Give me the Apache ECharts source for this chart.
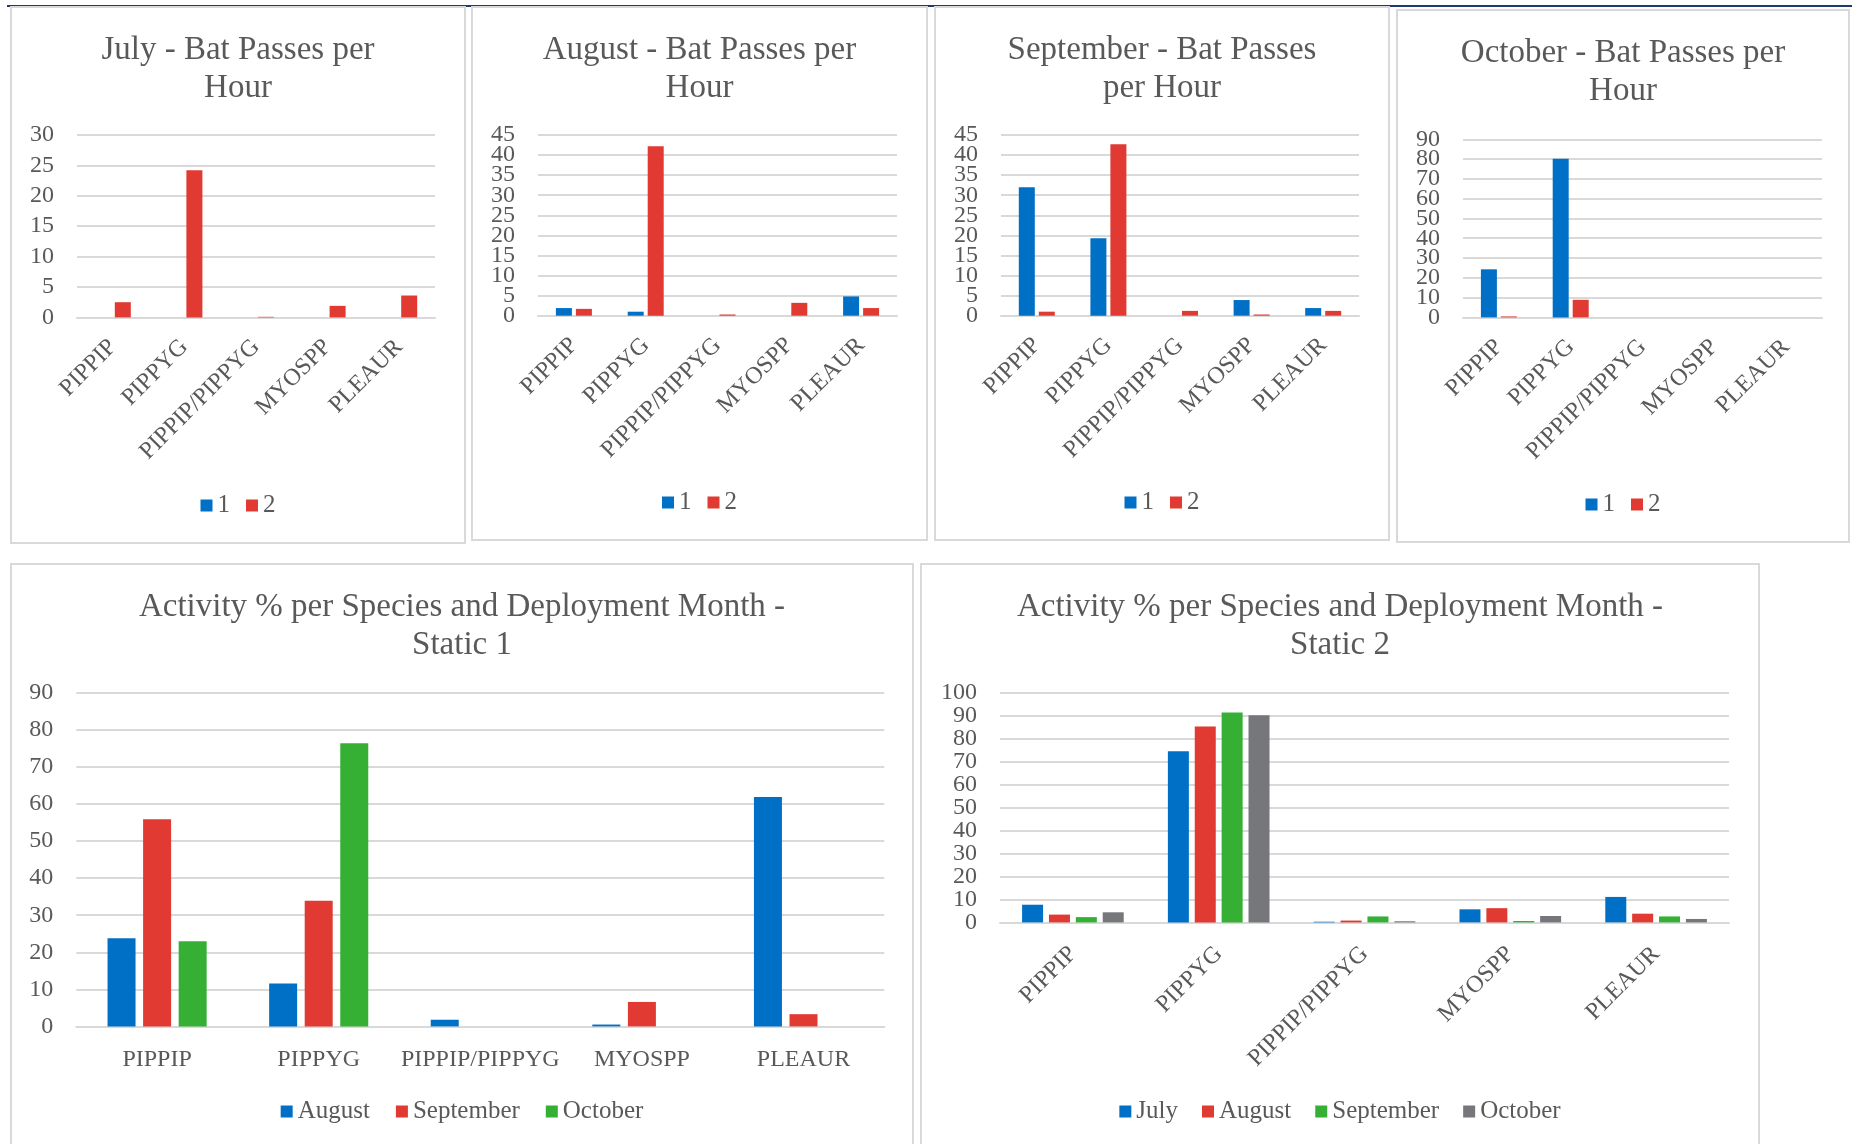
<!DOCTYPE html>
<html>
<head>
<meta charset="utf-8">
<script src="https://cdn.jsdelivr.net/npm/echarts@6/dist/echarts.min.js"></script>
<style>
  html, body { margin:0; padding:0; width:1852px; height:1144px; overflow:hidden; background:#fff; }
  .chart { position:absolute; }
  .frame { position:absolute; box-sizing:border-box; border:2px solid #D9D9D9; pointer-events:none; }
  #topline { position:absolute; left:7px; top:5px; width:1845px; height:2px; background:#1F3A70; }
</style>
</head>
<body>
<div id="topline"></div>
<script>
// ---------- data ----------
const categories = ['PIPPIP', 'PIPPYG', 'PIPPIP/PIPPYG', 'MYOSPP', 'PLEAUR'];

// Bat passes per hour, static 1 and static 2
const julyStatic1 = [0, 0, 0, 0, 0];
const julyStatic2 = [2.5, 24.2, 0.1, 1.9, 3.6];
const augStatic1  = [1.9, 1.0, 0, 0, 4.8];
const augStatic2  = [1.7, 42.2, 0.3, 3.2, 1.9];
const sepStatic1  = [32.0, 19.3, 0, 3.9, 1.9];
const sepStatic2  = [1.0, 42.7, 1.2, 0.3, 1.2];
const octStatic1  = [24.3, 80.2, 0, 0, 0];
const octStatic2  = [0.5, 8.9, 0, 0, 0];

// Activity % per species, Static 1
const s1August    = [23.8, 11.6, 1.8, 0.5, 61.9];
const s1September = [55.9, 33.9, 0, 6.6, 3.3];
const s1October   = [23.0, 76.4, 0, 0, 0];

// Activity % per species, Static 2
const s2July      = [7.7, 74.6, 0.3, 5.7, 11.1];
const s2August    = [3.4, 85.4, 0.8, 6.2, 3.8];
const s2September = [2.3, 91.5, 2.6, 0.6, 2.6];
const s2October   = [4.4, 90.3, 0.5, 2.8, 1.5];

const staticNames = ['1', '2'];
const s1Months = ['August', 'September', 'October'];
const s2Months = ['July', 'August', 'September', 'October'];

// ---------- styles ----------
const FONT = 'Liberation Serif';
const TXT = '#595959';
const GRID = '#D9D9D9';
const BLUE = '#0070C6', RED = '#E03A33', GREEN = '#35B035', GRAY = '#76777B';

function panel(rect, option) {
  const d = document.createElement('div');
  d.className = 'chart';
  d.style.left = rect.x + 'px'; d.style.top = rect.y + 'px';
  d.style.width = rect.w + 'px'; d.style.height = rect.h + 'px';
  document.body.appendChild(d);
  const f = document.createElement('div');
  f.className = 'frame';
  f.style.left = rect.x + 'px'; f.style.top = rect.y + 'px';
  f.style.width = rect.w + 'px'; f.style.height = rect.h + 'px';
  document.body.appendChild(f);
  const c = echarts.init(d, null, { renderer: 'canvas' });
  c.setOption(option);
}

const labelStyle = { margin: 23, fontFamily: FONT, fontSize: 24, color: TXT };

function baseOption(p) {
  const [gl, gt, gw, gh] = p.grid;
  const grids = [{ left: gl, top: gt, width: gw, height: gh, containLabel: false, outerBoundsMode: 'none' }];
  const xAxes = [{
    type: 'category', data: categories, gridIndex: 0,
    axisLine: { show: true, lineStyle: { color: GRID, width: 2 } },
    axisTick: { show: false },
    axisLabel: { interval: 0, rotate: p.rotate, margin: p.xMargin, fontFamily: FONT, fontSize: 24, color: TXT }
  }];
  const mainY = {
    type: 'value', gridIndex: 0, position: 'left', offset: 0,
    min: 0, max: p.max, interval: p.interval,
    axisLine: { show: false }, axisTick: { show: false },
    splitLine: { lineStyle: { color: GRID, width: 2 } },
    axisLabel: Object.assign({}, labelStyle)
  };
  const yAxes = [mainY];

  if (p.split) {
    // tightly packed tick labels: shown through two label-only axes (even / odd ticks)
    const step = p.interval;
    const stepPx = gh * step / p.max;
    mainY.axisLabel = { show: false };
    grids.push({ left: gl, top: gt - stepPx, width: gw, height: gh, containLabel: false, outerBoundsMode: 'none' });
    xAxes.push({ type: 'category', data: categories, gridIndex: 1, show: false });
    yAxes.push({
      type: 'value', gridIndex: 0, position: 'left', offset: 0,
      min: 0, max: p.max, interval: 2 * step,
      axisLine: { show: false }, axisTick: { show: false }, splitLine: { show: false },
      axisLabel: Object.assign({}, labelStyle, {
        formatter: v => (Math.round(v / step) % 2 === 0 ? String(v) : '')
      })
    });
    yAxes.push({
      type: 'value', gridIndex: 1, position: 'left', offset: 0,
      min: 0, max: p.max, interval: 2 * step,
      axisLine: { show: false }, axisTick: { show: false }, splitLine: { show: false },
      axisLabel: Object.assign({}, labelStyle, {
        formatter: v => {
          const u = v + step;
          return (u <= p.max && Math.round(v / step) % 2 === 0) ? String(u) : '';
        }
      })
    });
  }

  return {
    animation: false,
    title: {
      text: p.title, left: 'center', top: p.titleTop,
      textStyle: { fontFamily: FONT, fontSize: 33, fontWeight: 'normal', color: TXT, lineHeight: p.titleLH }
    },
    legend: {
      left: 'center', top: p.legendTop, padding: 0, icon: 'rect',
      itemWidth: 12, itemHeight: 12, itemGap: p.legendGap,
      textStyle: { fontFamily: FONT, fontSize: 25, color: TXT },
      data: p.legendData
    },
    grid: grids,
    xAxis: xAxes,
    yAxis: yAxes,
    series: p.series
  };
}

function bars(names, datas, colors, width, gap) {
  return names.map((n, i) => ({
    type: 'bar', name: n, data: datas[i], barWidth: width, barGap: gap,
    xAxisIndex: 0, yAxisIndex: 0,
    itemStyle: { color: colors[i] }
  }));
}

// ---------- top row ----------
const topRects = [
  { x: 10,   y: 6, w: 456, h: 538 },
  { x: 471,  y: 6, w: 457, h: 535 },
  { x: 934,  y: 6, w: 456, h: 535 },
  { x: 1396, y: 9, w: 454, h: 534 }
];
const topTitles = [
  'July - Bat Passes per\nHour',
  'August - Bat Passes per\nHour',
  'September - Bat Passes\nper Hour',
  'October - Bat Passes per\nHour'
];
const topData = [
  [julyStatic1, julyStatic2],
  [augStatic1, augStatic2],
  [sepStatic1, sepStatic2],
  [octStatic1, octStatic2]
];
const topMax = [30, 45, 45, 90];
const topInterval = [5, 5, 5, 10];
const topSplit = [false, true, true, true];
const topGrids = [
  [67, 129, 358, 182.4],
  [67, 129, 359, 180.7],
  [67, 129, 358, 180.7],
  [67, 130.3, 359, 178.1]
];
const topLegendTop = [487, 484, 484, 483];
const topTitleTop = [20, 20, 20, 20];

for (let i = 0; i < 4; i++) {
  panel(topRects[i], baseOption({
    title: topTitles[i], titleTop: topTitleTop[i], titleLH: 38,
    legendTop: topLegendTop[i], legendGap: 16, legendData: staticNames,
    grid: topGrids[i], rotate: 45, xMargin: 26,
    max: topMax[i], interval: topInterval[i], split: topSplit[i],
    series: bars(staticNames, topData[i], [BLUE, RED], 16, '25%')
  }));
}

// ---------- bottom row ----------
panel({ x: 10, y: 563, w: 904, h: 600 }, baseOption({
  title: 'Activity % per Species and Deployment Month -\nStatic 1', titleTop: 20.5, titleLH: 37.6,
  legendTop: 536, legendGap: 26, legendData: s1Months,
  grid: [66.3, 129.9, 808, 333.5], rotate: 0, xMargin: 21,
  max: 90, interval: 10, split: false,
  series: bars(s1Months, [s1August, s1September, s1October], [BLUE, RED, GREEN], 28, '27%')
}));

panel({ x: 920, y: 563, w: 840, h: 600 }, baseOption({
  title: 'Activity % per Species and Deployment Month -\nStatic 2', titleTop: 20.5, titleLH: 37.6,
  legendTop: 536, legendGap: 24, legendData: s2Months,
  grid: [80, 129.9, 729, 229.5], rotate: 45, xMargin: 28,
  max: 100, interval: 10, split: true,
  series: bars(s2Months, [s2July, s2August, s2September, s2October], [BLUE, RED, GREEN, GRAY], 21, '28%')
}));
</script>
</body>
</html>
